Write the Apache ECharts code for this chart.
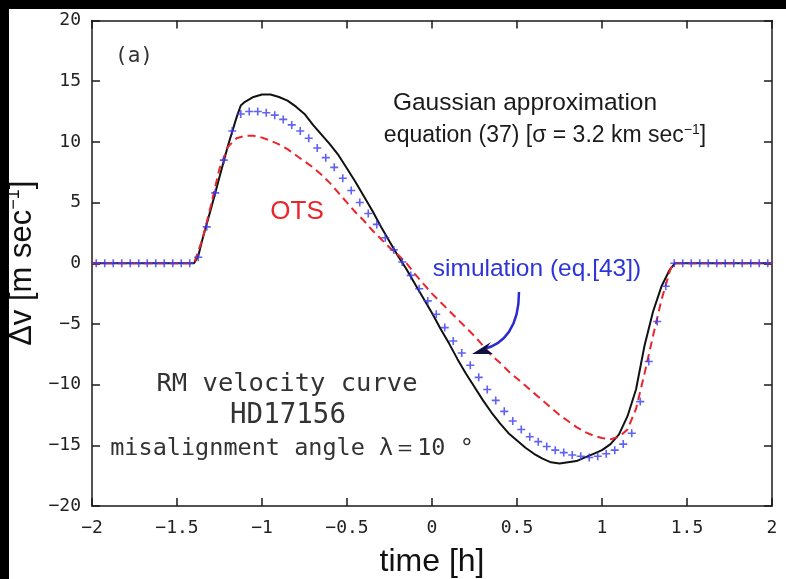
<!DOCTYPE html>
<html>
<head>
<meta charset="utf-8">
<script src="https://cdn.jsdelivr.net/npm/echarts@6/dist/echarts.min.js"></script>
<style>
  html, body { margin: 0; padding: 0; background: #000; width: 786px; height: 579px; overflow: hidden; }
  #chart { position: absolute; left: 9px; top: 9px; width: 777px; height: 570px; background: #fff; }
</style>
</head>
<body>
<div id="chart"></div>
<script>
// Gaussian approximation, eq. (37), sigma = 3.2 km/s
const gaussT = [-2, -1.4, -1.375, -1.35, -1.3, -1.25, -1.2, -1.15, -1.125, -1.1, -1.05, -1.0, -0.95, -0.9, -0.85, -0.8, -0.75, -0.7, -0.65, -0.6, -0.55, -0.5, -0.45, -0.4, -0.35, -0.3, -0.25, -0.2, -0.15, -0.1, -0.05, 0, 0.05, 0.1, 0.15, 0.2, 0.25, 0.3, 0.35, 0.4, 0.45, 0.5, 0.55, 0.6, 0.65, 0.7, 0.75, 0.8, 0.85, 0.9, 0.95, 1.0, 1.05, 1.1, 1.15, 1.2, 1.25, 1.3, 1.35, 1.4, 1.43, 2];
const gaussV = [0, 0, 0.6, 2.0, 4.5, 7.1, 9.7, 12.0, 13.0, 13.3, 13.7, 13.9, 13.9, 13.7, 13.4, 12.9, 12.3, 11.4, 10.6, 9.8, 8.9, 7.8, 6.7, 5.5, 4.3, 3.0, 1.8, 0.6, -0.5, -1.7, -2.9, -4.1, -5.4, -6.6, -7.9, -9.1, -10.2, -11.3, -12.3, -13.2, -14.0, -14.6, -15.2, -15.7, -16.1, -16.4, -16.5, -16.4, -16.3, -16.0, -15.7, -15.4, -14.9, -14.1, -12.6, -10.4, -6.8, -4.0, -1.9, -0.5, 0, 0];

// OTS curve
const otsT = [-2, -1.4, -1.35, -1.3, -1.25, -1.2, -1.15, -1.1, -1.05, -1.0, -0.95, -0.9, -0.85, -0.8, -0.75, -0.7, -0.65, -0.6, -0.55, -0.5, -0.45, -0.4, -0.35, -0.3, -0.25, -0.2, -0.15, -0.1, -0.05, 0, 0.05, 0.1, 0.15, 0.2, 0.25, 0.3, 0.35, 0.4, 0.45, 0.5, 0.55, 0.6, 0.65, 0.7, 0.75, 0.8, 0.85, 0.9, 0.95, 1.0, 1.05, 1.1, 1.15, 1.2, 1.25, 1.3, 1.35, 1.4, 1.42, 2];
const otsV = [0, 0, 2.0, 4.8, 7.8, 9.6, 10.3, 10.5, 10.5, 10.35, 10.1, 9.8, 9.4, 8.9, 8.4, 7.9, 7.3, 6.6, 5.8, 5.0, 4.2, 3.5, 2.7, 2.0, 1.3, 0.7, 0.0, -0.9, -1.7, -2.5, -3.2, -3.9, -4.6, -5.3, -6.0, -6.8, -7.6, -8.2, -8.9, -9.5, -10.1, -10.7, -11.3, -11.9, -12.5, -13.0, -13.5, -13.9, -14.2, -14.4, -14.5, -14.3, -13.7, -12.0, -9.1, -6.0, -3.0, -0.6, 0, 0];

// Simulation, eq. [43]
const simT = [-1.975, -1.925, -1.875, -1.825, -1.775, -1.725, -1.675, -1.625, -1.575, -1.525, -1.475, -1.425,
  -1.375, -1.325, -1.275, -1.225, -1.175, -1.125, -1.075, -1.025, -0.975, -0.925, -0.875, -0.825, -0.775, -0.725,
  -0.675, -0.625, -0.575, -0.525, -0.475, -0.425, -0.375, -0.325, -0.275, -0.225, -0.175, -0.125, -0.075, -0.025,
  0.025, 0.075, 0.125, 0.175, 0.225, 0.275, 0.325, 0.375, 0.425, 0.475, 0.525, 0.575, 0.625, 0.675, 0.725, 0.775,
  0.825, 0.875, 0.925, 0.975, 1.025, 1.075, 1.125, 1.175, 1.225, 1.275, 1.325, 1.375,
  1.425, 1.475, 1.525, 1.575, 1.625, 1.675, 1.725, 1.775, 1.825, 1.875, 1.925, 1.975];
const simV = [0, 0, 0, 0, 0, 0, 0, 0, 0, 0, 0, 0,
  0.5, 3.0, 5.8, 8.5, 10.9, 12.3, 12.5, 12.5, 12.4, 12.2, 11.85, 11.4, 10.9, 10.3,
  9.5, 8.7, 7.9, 7.0, 6.0, 5.0, 4.1, 3.2, 2.1, 1.1, 0.1, -1.0, -2.1, -3.1,
  -4.2, -5.3, -6.4, -7.4, -8.4, -9.4, -10.4, -11.3, -12.2, -13.0, -13.7, -14.3, -14.7, -15.1, -15.4, -15.6,
  -15.8, -15.9, -16.0, -15.9, -15.7, -15.4, -14.9, -14.0, -11.4, -8.1, -4.8, -1.9,
  0, 0, 0, 0, 0, 0, 0, 0, 0, 0, 0, 0];

const xTicks = { min: -2, max: 2, step: 0.5 };
const yTicks = { min: -20, max: 20, step: 5 };

const zip = (a, b) => a.map((t, i) => [t, b[i]]);
const minus = v => String(v).replace('-', '\u2212');

const INK = '#1a1a1a';
const tickFont = { fontFamily: 'DejaVu Sans Mono', fontSize: 18, color: '#222' };

function axisBase(extra) {
  return Object.assign({
    type: 'value',
    splitLine: { show: false },
    axisLine: { show: true, onZero: false, lineStyle: { color: INK, width: 1.5 } },
    axisTick: { show: true, inside: true, length: 8, lineStyle: { color: INK, width: 1.5 } },
  }, extra);
}

const chart = echarts.init(document.getElementById('chart'), null, { renderer: 'canvas' });

const PLUS = 'path://M4,0H6V4H10V6H6V10H4V6H0V4H4Z';

chart.setOption({
  animation: false,
  backgroundColor: '#fff',
  grid: { left: 83, right: 14, top: 11.5, bottom: 73, outerBoundsMode: 'none', containLabel: false },
  xAxis: [
    axisBase({
      position: 'bottom', min: xTicks.min, max: xTicks.max, interval: xTicks.step,
      axisLabel: Object.assign({ margin: 13, formatter: minus }, tickFont),
      name: 'time [h]', nameLocation: 'middle', nameGap: 40,
      nameTextStyle: { fontFamily: 'Liberation Sans', fontSize: 32, color: '#111' }
    }),
    axisBase({
      position: 'top', min: xTicks.min, max: xTicks.max, interval: xTicks.step,
      axisLabel: { show: false }
    })
  ],
  yAxis: [
    axisBase({
      position: 'left', min: yTicks.min, max: yTicks.max, interval: yTicks.step,
      axisLabel: Object.assign({ margin: 11, formatter: minus }, tickFont),
      name: '{a|\u0394v [m sec}{s|\u22121}{a|]}', nameLocation: 'middle', nameGap: 44, nameRotate: 90,
      nameTextStyle: {
        rich: {
          a: { fontFamily: 'Liberation Sans', fontSize: 31, color: '#111' },
          s: { fontFamily: 'Liberation Sans', fontSize: 18, color: '#111', verticalAlign: 'top', padding: [0, 0, 16, 0] }
        }
      }
    }),
    axisBase({
      position: 'right', min: yTicks.min, max: yTicks.max, interval: yTicks.step,
      axisLabel: { show: false }
    })
  ],
  series: [
    {
      name: 'Gaussian approximation', type: 'line', data: zip(gaussT, gaussV),
      showSymbol: false, smooth: false,
      lineStyle: { color: '#111', width: 2 }, z: 3
    },
    {
      name: 'OTS', type: 'line', data: zip(otsT, otsV),
      showSymbol: false, smooth: false,
      lineStyle: { color: '#e8262c', width: 2, type: [8, 5] }, z: 4
    },
    {
      name: 'simulation', type: 'scatter', data: zip(simT, simV),
      symbol: PLUS, symbolSize: 8,
      itemStyle: { color: '#3a3af2' }, z: 5
    }
  ],
  graphic: [
    { type: 'text', left: 106, top: 37, style: { text: '(a)', font: '21px "DejaVu Sans Mono"', fill: '#333' } },
    { type: 'text', x: 516, y: 94, style: { text: 'Gaussian approximation', font: '24.5px "Liberation Sans"', fill: '#1a1a1a', align: 'center', verticalAlign: 'middle' } },
    { type: 'text', x: 536, y: 127, style: {
        text: '{a|equation (37) [\u03c3 = 3.2 km sec}{s|\u22121}{a|]}', align: 'center', verticalAlign: 'middle',
        rich: {
          a: { font: '23px "Liberation Sans"', fill: '#1a1a1a' },
          s: { font: '14px "Liberation Sans"', fill: '#1a1a1a', verticalAlign: 'top', padding: [0, 0, 12, 0] }
        } } },
    { type: 'text', x: 288, y: 203, style: { text: 'OTS', font: '26px "Liberation Sans"', fill: '#e8262c', align: 'center', verticalAlign: 'middle' } },
    { type: 'text', x: 528, y: 260, style: { text: 'simulation (eq.[43])', font: '24.5px "Liberation Sans"', fill: '#2d34d8', align: 'center', verticalAlign: 'middle' } },
    { type: 'text', x: 278, y: 375, style: { text: 'RM velocity curve', font: '25.5px "DejaVu Sans Mono"', fill: '#333', align: 'center', verticalAlign: 'middle' } },
    { type: 'text', x: 279, y: 407, style: { text: 'HD17156', font: '27.5px "DejaVu Sans Mono"', fill: '#333', align: 'center', verticalAlign: 'middle' } },
    { type: 'text', x: 283, y: 440, style: { text: 'misalignment angle \u03bb\uff1d10 \u00b0', font: '23.5px "DejaVu Sans Mono"', fill: '#333', align: 'center', verticalAlign: 'middle' } },
    { type: 'bezierCurve', shape: { x1: 510, y1: 283, cpx1: 510, cpy1: 318, x2: 475, y2: 340, cpx2: 495, cpy2: 335 },
      style: { stroke: '#2a2ad0', lineWidth: 2.5, fill: null }, z: 10 },
    { type: 'polygon', shape: { points: [[463, 345], [482, 333], [477, 340], [484, 345]] },
      style: { fill: '#101040' }, z: 11 }
  ]
});
</script>
</body>
</html>
